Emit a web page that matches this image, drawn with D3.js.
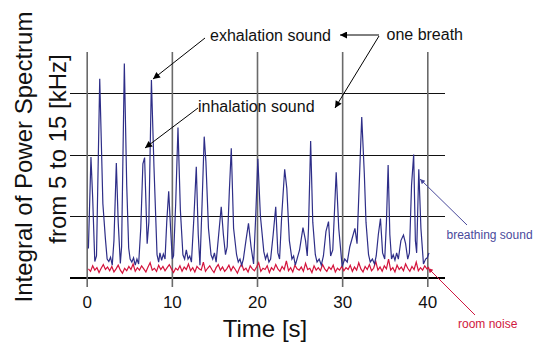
<!DOCTYPE html>
<html>
<head>
<meta charset="utf-8">
<script src="https://cdn.jsdelivr.net/npm/d3@7"></script>
<style>
  body { margin: 0; background: #fff; }
  svg { display: block; font-family: "Liberation Sans", Arial, sans-serif; }
</style>
</head>
<body>
<script>
// ---- data ----
let xTicks = [0, 10, 20, 30, 40];
let yGrid = [0, 1, 2, 3];

// breathing sound (time in s, value in grid units)
let breathT = [0.2, 0.5, 0.7, 0.95, 1.15, 1.53, 1.9, 2.19, 2.4, 2.6, 2.8, 3.0, 3.2, 3.48, 3.7, 3.95, 4.1, 4.42, 4.7, 4.93,
  5.1, 5.3, 5.5, 5.7, 5.9, 6.1, 6.35, 6.6, 6.8, 7.1, 7.3, 7.6, 7.9, 8.26, 8.45, 8.6, 8.8, 9.0, 9.2, 9.4,
  9.63, 9.85, 10.05, 10.2, 10.45, 10.72, 11.0, 11.3, 11.5, 11.7, 11.9, 12.1, 12.3, 12.6, 12.87, 13.1, 13.3, 13.55, 13.8, 14.0,
  14.3, 14.6, 14.8, 15.0, 15.2, 15.5, 15.8, 16.05, 16.3, 16.5, 16.75, 16.98, 17.25, 17.6, 17.8, 18.0, 18.2, 18.4, 18.7, 19.0,
  19.3, 19.6, 19.85, 20.1, 20.4, 20.8, 21.0, 21.2, 21.4, 21.6, 21.9, 22.2, 22.45, 22.65, 22.9, 23.25, 23.5, 23.8, 24.1, 24.3,
  24.5, 24.7, 25.0, 25.4, 25.7, 25.9, 26.05, 26.3, 26.55, 26.85, 27.05, 27.3, 27.55, 27.8, 28.1, 28.4, 28.65, 28.9, 29.3, 29.6,
  30.0, 30.3, 30.6, 30.9, 31.2, 31.5, 31.75, 32.0, 32.3, 32.6, 32.8, 33.1, 33.3, 33.55, 33.8, 34.0, 34.25, 34.5, 34.75, 35.0,
  35.2, 35.4, 35.6, 35.8, 36.0, 36.2, 36.4, 36.6, 36.9, 37.2, 37.45, 37.7, 37.9, 38.15, 38.4, 38.6, 38.75, 39.0, 39.25, 39.55,
  39.8, 40.0, 40.2];
let breathV = [0.47, 1.96, 1.3, 0.26, 0.35, 3.23, 1.2, 0.64, 0.3, 0.26, 0.33, 0.2, 0.6, 1.86, 0.9, 0.23, 0.5, 3.48, 1.5, 0.48,
  0.3, 0.25, 0.32, 0.2, 0.3, 0.22, 0.8, 1.85, 1.95, 0.55, 0.9, 3.21, 1.8, 0.37, 0.25, 0.4, 0.28, 0.38, 0.3, 0.9,
  1.40, 0.8, 0.3, 0.35, 1.2, 2.44, 1.1, 0.37, 0.3, 0.45, 0.3, 0.35, 0.25, 1.0, 1.80, 0.7, 0.2, 1.2, 2.29, 1.88,
  0.8, 0.37, 0.3, 0.4, 0.25, 0.7, 1.15, 0.7, 0.37, 0.5, 1.4, 2.10, 0.8, 0.37, 0.25, 0.3, 0.2, 0.3, 0.6, 0.88,
  0.5, 0.22, 1.0, 1.93, 1.0, 0.42, 0.3, 0.38, 0.25, 0.3, 0.7, 1.15, 0.4, 0.3, 1.0, 1.76, 1.45, 0.6, 0.3, 0.35,
  0.2, 0.3, 0.45, 0.81, 0.6, 0.35, 0.8, 2.22, 0.9, 0.37, 0.25, 0.3, 0.2, 0.35, 0.75, 0.91, 0.35, 0.45, 1.71, 0.8,
  0.18, 0.3, 0.25, 0.5, 0.65, 0.8, 0.55, 1.5, 2.61, 1.7, 0.9, 0.37, 0.25, 0.3, 0.22, 0.35, 0.7, 0.96, 0.4, 0.3,
  0.9, 1.83, 0.7, 0.3, 0.37, 0.28, 0.4, 0.3, 0.6, 0.69, 0.55, 0.3, 0.4, 1.5, 2.0, 0.6, 0.4, 1.76, 0.8, 0.22,
  0.3, 0.32, 0.4];

// room noise, one sample every 0.25 s from 0.2 s
let noiseStart = 0.2, noiseStep = 0.25;
let noiseV = [
  0.14, 0.10, 0.19, 0.12, 0.16, 0.08, 0.15, 0.21, 0.13, 0.17, 0.11, 0.18, 0.09, 0.14, 0.20, 0.12, 0.07, 0.15, 0.11, 0.18,
  0.13, 0.22, 0.10, 0.16, 0.12, 0.19, 0.14, 0.09, 0.17, 0.24, 0.12, 0.15, 0.10, 0.20, 0.13, 0.18, 0.11, 0.16, 0.21, 0.14,
  0.08,
  0.15, 0.12, 0.19, 0.10, 0.17, 0.13, 0.22, 0.11, 0.16, 0.09, 0.18, 0.14, 0.12, 0.25, 0.10, 0.15, 0.19, 0.13, 0.08, 0.16,
  0.21, 0.12, 0.17, 0.10, 0.14, 0.20, 0.11, 0.18, 0.13, 0.07, 0.16, 0.22, 0.12, 0.15, 0.09, 0.19, 0.14, 0.11, 0.17, 0.24,
  0.10, 0.15, 0.13, 0.19, 0.08, 0.16, 0.12, 0.21, 0.14, 0.10, 0.18, 0.13, 0.27, 0.11, 0.16, 0.09, 0.20, 0.14, 0.12, 0.17,
  0.10, 0.23, 0.13, 0.15, 0.08, 0.19, 0.12, 0.16, 0.11, 0.21, 0.14, 0.10, 0.17, 0.13, 0.20, 0.09, 0.15, 0.12, 0.18, 0.11,
  0.16, 0.13, 0.20, 0.10, 0.17, 0.12, 0.24, 0.14, 0.09, 0.18, 0.13, 0.21, 0.11, 0.15, 0.26, 0.12, 0.17, 0.10, 0.19, 0.14,
  0.30, 0.12, 0.16, 0.09, 0.20, 0.13, 0.17, 0.11, 0.22, 0.15, 0.10, 0.18, 0.13, 0.25, 0.11, 0.16, 0.12, 0.19, 0.14, 0.17];

// ---- layout ----
let W = 543, H = 343;
let gridLeft = 70, gridRight = 445, gridTop = 52, gridBottom = 287;

let svg = d3.select('body')
  .append('svg')
    .attr('width', W)
    .attr('height', H);

let defs = svg.append('defs');
function marker(id, color, len, wid) {
  defs.append('marker')
      .attr('id', id)
      .attr('markerUnits', 'userSpaceOnUse')
      .attr('viewBox', '0 0 10 10')
      .attr('refX', 10).attr('refY', 5)
      .attr('markerWidth', len).attr('markerHeight', wid)
      .attr('orient', 'auto')
    .append('path')
      .attr('d', 'M0,0 L10,5 L0,10 z')
      .attr('fill', color);
}
marker('arrBlack', '#000', 11, 7);
marker('arrBlue', '#4a4a9c', 8, 5);
marker('arrRed', '#d01840', 8, 5);

let x = d3.scaleLinear().domain([0, 40]).range([86.7, 427.3]);
let y = d3.scaleLinear().domain([0, 4]).range([277.5, 31.5]);

// horizontal grid lines
let yAxis = svg.append('g')
  .attr('transform', 'translate(' + gridLeft + ',0)')
  .call(d3.axisLeft(y).tickValues(yGrid).tickSize(-(gridRight - gridLeft)).tickFormat(''));
yAxis.select('.domain').remove();
yAxis.selectAll('.tick line')
  .attr('stroke', function (d) { return d === 0 ? '#000' : '#111'; })
  .attr('stroke-width', function (d) { return d === 0 ? 2 : 1; })
  .attr('shape-rendering', 'crispEdges');

// vertical grid lines + tick labels
let xAxis = svg.append('g')
  .attr('transform', 'translate(0,' + gridBottom + ')')
  .call(d3.axisBottom(x).tickValues(xTicks).tickSize(-(gridBottom - gridTop)).tickPadding(9));
xAxis.select('.domain').remove();
xAxis.selectAll('.tick line')
  .attr('stroke', '#6a6a6a')
  .attr('stroke-width', 1.6);
xAxis.selectAll('.tick text')
  .attr('font-size', 17)
  .attr('font-family', '"Liberation Sans", Arial, sans-serif')
  .attr('fill', '#111');

// ---- series ----
let lineGen = d3.line()
  .x(function (d) { return x(d[0]); })
  .y(function (d) { return y(d[1]); });

let noiseData = noiseV.map(function (v, i) { return [noiseStart + i * noiseStep, v]; });
svg.append('path')
  .attr('fill', 'none')
  .attr('stroke', '#d4143c')
  .attr('stroke-width', 1.2)
  .attr('d', lineGen(noiseData));

let breathData = breathT.map(function (t, i) { return [t, breathV[i]]; });
svg.append('path')
  .attr('fill', 'none')
  .attr('stroke', '#2e2e88')
  .attr('stroke-width', 1.2)
  .attr('d', lineGen(breathData));

// ---- axis titles ----
svg.append('text')
  .attr('x', 265).attr('y', 337)
  .attr('text-anchor', 'middle')
  .attr('font-size', 24)
  .attr('fill', '#111')
  .text('Time [s]');

svg.append('text')
  .attr('transform', 'translate(32,157) rotate(-90)')
  .attr('text-anchor', 'middle')
  .attr('font-size', 24)
  .attr('fill', '#111')
  .text('Integral of Power Spectrum');
svg.append('text')
  .attr('transform', 'translate(66,149) rotate(-90)')
  .attr('text-anchor', 'middle')
  .attr('font-size', 24)
  .attr('fill', '#111')
  .text('from 5 to 15 [kHz]');

// ---- annotations ----
let notes = [
  { text: 'exhalation sound', x: 210, y: 40.5 },
  { text: 'one breath', x: 386.5, y: 40 },
  { text: 'inhalation sound', x: 198, y: 111.5 }
];
svg.selectAll('.note')
  .data(notes).enter()
  .append('text')
    .attr('class', 'note')
    .attr('x', function (d) { return d.x; })
    .attr('y', function (d) { return d.y; })
    .attr('font-size', 16)
    .attr('fill', '#111')
    .text(function (d) { return d.text; });

let arrows = [
  { x1: 205, y1: 38, x2: 153, y2: 79 },
  { x1: 198, y1: 108, x2: 145, y2: 148 },
  { x1: 379, y1: 35, x2: 340, y2: 35 },
  { x1: 379, y1: 36, x2: 335, y2: 108 }
];
svg.selectAll('.arrow')
  .data(arrows).enter()
  .append('line')
    .attr('class', 'arrow')
    .attr('x1', function (d) { return d.x1; })
    .attr('y1', function (d) { return d.y1; })
    .attr('x2', function (d) { return d.x2; })
    .attr('y2', function (d) { return d.y2; })
    .attr('stroke', '#000')
    .attr('stroke-width', 1)
    .attr('marker-end', 'url(#arrBlack)');

// legend-like labels
svg.append('line')
  .attr('x1', 467).attr('y1', 225).attr('x2', 420).attr('y2', 179)
  .attr('stroke', '#4a4a9c').attr('stroke-width', 1)
  .attr('marker-end', 'url(#arrBlue)');
svg.append('text')
  .attr('x', 446.5).attr('y', 238.5)
  .attr('font-size', 12)
  .attr('fill', '#4a4a9c')
  .text('breathing sound');

svg.append('line')
  .attr('x1', 475).attr('y1', 315).attr('x2', 428).attr('y2', 268)
  .attr('stroke', '#d01840').attr('stroke-width', 1)
  .attr('marker-end', 'url(#arrRed)');
svg.append('text')
  .attr('x', 458).attr('y', 328)
  .attr('font-size', 12)
  .attr('fill', '#d01840')
  .text('room noise');
</script>
</body>
</html>
